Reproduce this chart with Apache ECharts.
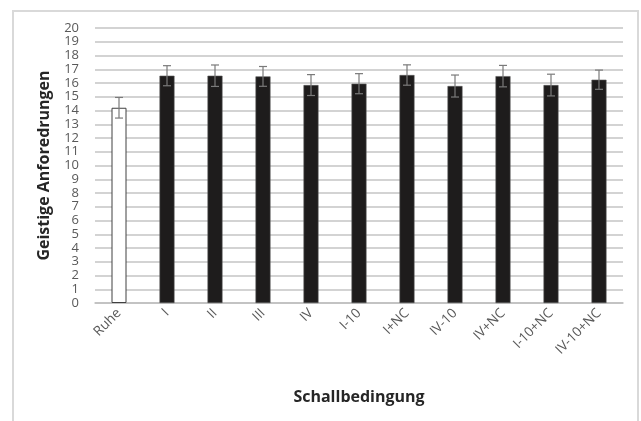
<!DOCTYPE html>
<html>
<head>
<meta charset="utf-8">
<script src="https://cdn.jsdelivr.net/npm/echarts@6/dist/echarts.min.js"></script>
<style>
  html, body { margin: 0; padding: 0; background: #ffffff; }
  #chart { width: 641px; height: 421px; }
</style>
</head>
<body>
<div id="chart"></div>
<script>
// Conditions and mean scores with standard error
const categories = ['Ruhe', 'I', 'II', 'III', 'IV', 'I-10', 'I+NC', 'IV-10', 'IV+NC', 'I-10+NC', 'IV-10+NC'];
const means = [14.2, 16.53, 16.53, 16.48, 15.85, 15.95, 16.58, 15.78, 16.5, 15.85, 16.24];
const errors = [0.75, 0.73, 0.78, 0.72, 0.76, 0.73, 0.74, 0.8, 0.78, 0.79, 0.7];
const yTicks = [0, 20, 1];

const fontFamily = '"Open Sans", "DejaVu Sans", sans-serif';

const barData = means.map((v, i) => ({
  value: v,
  itemStyle: i === 0
    ? { color: '#ffffff', borderColor: '#404040', borderWidth: 1 }
    : { color: '#1e1c1c', borderColor: '#5a5a5a', borderWidth: 0.6 }
}));

const errData = means.map((v, i) => [i, v - errors[i], v + errors[i]]);

const chart = echarts.init(document.getElementById('chart'), null, { renderer: 'canvas' });

chart.setOption({
  animation: false,
  backgroundColor: '#ffffff',
  graphic: [{
    type: 'rect',
    shape: { x: 13, y: 11, width: 625, height: 430 },
    style: { fill: 'none', stroke: '#d9d9d9', lineWidth: 2 },
    silent: true
  }],
  grid: { left: 95, right: 18, top: 28, bottom: 118, containLabel: false },
  xAxis: {
    type: 'category',
    data: categories,
    name: 'Schallbedingung',
    nameLocation: 'middle',
    nameGap: 86,
    nameTextStyle: { fontFamily, fontSize: 16, fontWeight: 'bold', color: '#262626' },
    axisLine: { show: true, lineStyle: { color: '#bfbfbf', width: 1.5 } },
    axisTick: { show: false },
    axisLabel: {
      rotate: 45,
      margin: 8,
      fontFamily,
      fontSize: 13.5,
      color: '#595959',
      interval: 0
    }
  },
  yAxis: {
    type: 'value',
    min: yTicks[0],
    max: yTicks[1],
    interval: yTicks[2],
    name: 'Geistige Anforedrungen',
    nameLocation: 'middle',
    nameGap: 43,
    nameTextStyle: { fontFamily, fontSize: 16, fontWeight: 'bold', color: '#262626' },
    axisLine: { show: false },
    axisTick: { show: false },
    axisLabel: {
      fontFamily, fontSize: 13, color: '#595959', margin: 16, lineHeight: 13,
      showMinLabel: true, showMaxLabel: true
    },
    splitLine: { lineStyle: { color: '#c4c4c4', width: 1.5 } }
  },
  series: [
    {
      type: 'bar',
      data: barData,
      barWidth: 15,
      z: 2
    },
    {
      type: 'custom',
      data: errData,
      z: 3,
      renderItem: function (params, api) {
        const x = api.value(0);
        const lo = api.coord([x, api.value(1)]);
        const hi = api.coord([x, api.value(2)]);
        const cap = 4;
        const style = { stroke: '#7a7a7a', lineWidth: 1.2, fill: null };
        return {
          type: 'group',
          children: [
            { type: 'line', shape: { x1: lo[0], y1: lo[1], x2: hi[0], y2: hi[1] }, style },
            { type: 'line', shape: { x1: hi[0] - cap, y1: hi[1], x2: hi[0] + cap, y2: hi[1] }, style },
            { type: 'line', shape: { x1: lo[0] - cap, y1: lo[1], x2: lo[0] + cap, y2: lo[1] }, style }
          ]
        };
      }
    }
  ]
});
</script>
</body>
</html>
